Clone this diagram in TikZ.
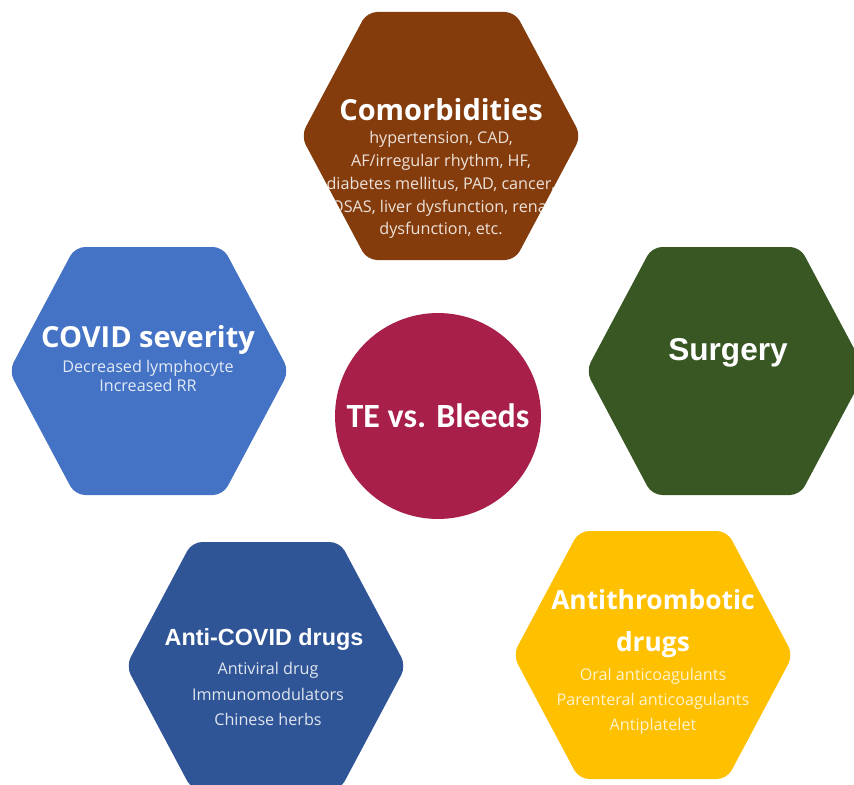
\documentclass[tikz,border=0pt]{standalone}
\usepackage{fontspec}
\setmainfont{Open Sans}
\newfontfamily\arialfont{Liberation Sans}
\newfontfamily\calibrifont{Carlito}
\usetikzlibrary{positioning}

\definecolor{comorbbrown}{HTML}{843C0C}
\definecolor{severityblue}{HTML}{4472C4}
\definecolor{surgerygreen}{HTML}{385723}
\definecolor{drugblue}{HTML}{2F5597}
\definecolor{antigold}{HTML}{FFC000}
\definecolor{bleedred}{HTML}{A8204A}

\tikzstyle{hexa} = [rounded corners=0.2cm]
\tikzstyle{title} = [text=white, inner sep=0pt, anchor=base]
\tikzstyle{items} = [align=center, inner sep=0pt]

\newcommand{\hexpath}[1]{(#1) ++(-140,0) -- ++(66,-124) -- ++(148,0) -- ++(66,124) -- ++(-66,124) -- ++(-148,0) -- cycle}

\begin{document}
\begin{tikzpicture}[x=0.02cm, y=-0.02cm]
    \clip (0,0) rectangle (854,784);
    % Place centres
    \coordinate (comorb) at (441,136);
    \coordinate (severity) at (149,371);
    \coordinate (surgery) at (726,371);
    \coordinate (antivir) at (266,666);
    \coordinate (antithr) at (653,655);

    % Hexagons
    \fill[hexa, comorbbrown] \hexpath{comorb};
    \fill[hexa, severityblue] \hexpath{severity};
    \fill[hexa, surgerygreen] \hexpath{surgery};
    \fill[hexa, drugblue] \hexpath{antivir};
    \fill[hexa, antigold] \hexpath{antithr};

    % Centre
    \node[circle, fill=bleedred, minimum size=4.12cm, inner sep=0pt, text=white,
          font=\calibrifont\bfseries\fontsize{19.3}{24}\selectfont] (bleeds) at (438,416) {TE vs. Bleeds};

    % Labels
    \node[title, font=\bfseries\fontsize{16.5}{20}\selectfont] (comorbtitle) at (441,120) {Comorbidities};
    \begin{scope}
        \clip \hexpath{comorb};
        \node[items, text=white!85!comorbbrown, font=\fontsize{9.2}{13}\selectfont] (comorbitems) at (441,185)
            {hypertension, CAD,\\AF/irregular rhythm, HF,\\diabetes mellitus, PAD, cancer,\\OSAS, liver dysfunction, renal\\dysfunction, etc.};
    \end{scope}

    \node[title, font=\bfseries\fontsize{16.5}{20}\selectfont] (severitytitle) at (148,347) {COVID severity};
    \node[items, text=white!85!severityblue, font=\fontsize{9.2}{11.3}\selectfont] (severityitems) at (148,376)
        {Decreased lymphocyte\\Increased RR};

    \node[title, font=\arialfont\bfseries\fontsize{18}{22}\selectfont] (surgerytitle) at (728,360) {Surgery};

    \node[title, font=\arialfont\bfseries\fontsize{13.3}{16}\selectfont] (antivirtitle) at (264,645) {Anti-COVID drugs};
    \node[items, text=white!85!drugblue, font=\fontsize{9.2}{14.7}\selectfont] (antiviritems) at (268,694)
        {Antiviral drug\\Immunomodulators\\Chinese herbs};

    \node[items, text=white, font=\bfseries\fontsize{15}{23.8}\selectfont] (antithrtitle) at (653,624)
        {Antithrombotic\\drugs};
    \node[items, text=white!80!antigold, font=\fontsize{9.2}{14.2}\selectfont] (antithritems) at (653,701)
        {Oral anticoagulants\\Parenteral anticoagulants\\Antiplatelet};
\end{tikzpicture}
\end{document}
